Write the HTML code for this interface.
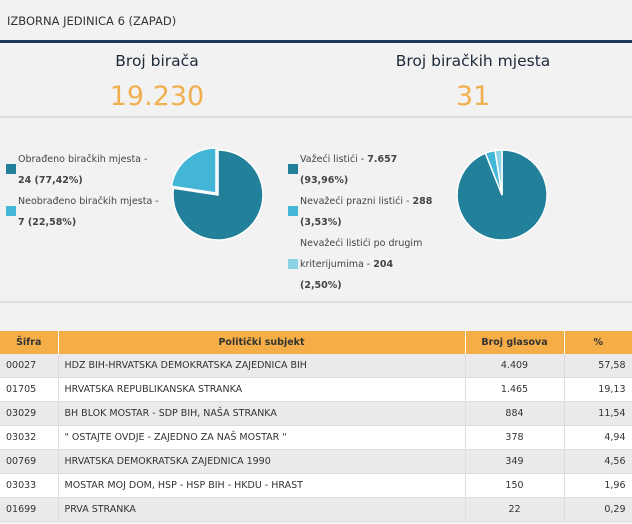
<!DOCTYPE html><html><head><meta charset="utf-8"><style>
body{margin:0;width:632px;height:524px;background:#f2f2f2;font-family:"DejaVu Sans","Liberation Sans",sans-serif;color:#333;overflow:hidden;position:relative}
.a{position:absolute;white-space:nowrap}
.sq{position:absolute;width:10px;height:10px}
.lg{font-size:9.5px;color:#444}
table{position:absolute;left:0;top:331px;width:632px;border-collapse:collapse;font-size:9.5px;table-layout:fixed}
th{background:#f5ae47;height:23px;font-weight:bold;color:#333;border-right:1px solid #fff;padding:0}
td{height:23px;border-right:1px solid #ddd;border-bottom:1px solid #ddd;padding:0 6px;color:#333;overflow:hidden}
tr:nth-child(even) td{background:#eaeaea}tr:nth-child(odd) td{background:#fff}
td.c{text-align:center}
</style></head><body>
<div class="a" style="left:7px;top:14px;font-size:11.5px;color:#333">IZBORNA JEDINICA 6 (ZAPAD)</div>
<div class="a" style="left:0;top:40px;width:632px;height:3px;background:#1d3a5c"></div>
<div class="a" style="left:57px;width:200px;top:52px;text-align:center;font-size:15.5px;color:#1e2a3a">Broj birača</div>
<div class="a" style="left:57px;width:200px;top:81px;text-align:center;font-size:27px;color:#f0b050">19.230</div>
<div class="a" style="left:373px;width:200px;top:52px;text-align:center;font-size:15.5px;color:#1e2a3a">Broj biračkih mjesta</div>
<div class="a" style="left:373px;width:200px;top:81px;text-align:center;font-size:27px;color:#f0b050">31</div>
<div class="a" style="left:0;top:116px;width:632px;height:2px;background:#ddd"></div>
<div class="sq" style="left:6px;top:164px;background:#22809a"></div>
<div class="a lg" style="left:18px;top:154px">Obrađeno biračkih mjesta -</div>
<div class="a lg" style="left:18px;top:175px"><b>24 (77,42%)</b></div>
<div class="sq" style="left:6px;top:206px;background:#43b5d6"></div>
<div class="a lg" style="left:18px;top:196px">Neobrađeno biračkih mjesta -</div>
<div class="a lg" style="left:18px;top:217px"><b>7 (22,58%)</b></div>
<div class="sq" style="left:288px;top:164px;background:#22809a"></div>
<div class="a lg" style="left:300px;top:154px">Važeći listići - <b>7.657</b></div>
<div class="a lg" style="left:300px;top:175px"><b>(93,96%)</b></div>
<div class="sq" style="left:288px;top:206px;background:#43b5d6"></div>
<div class="a lg" style="left:300px;top:196px">Nevažeći prazni listići - <b>288</b></div>
<div class="a lg" style="left:300px;top:217px"><b>(3,53%)</b></div>
<div class="a lg" style="left:300px;top:238px">Nevažeći listići po drugim</div>
<div class="sq" style="left:288px;top:259px;background:#8dd3e6"></div>
<div class="a lg" style="left:300px;top:259px">kriterijumima - <b>204</b></div>
<div class="a lg" style="left:300px;top:280px"><b>(2,50%)</b></div>
<svg class="a" style="left:0;top:0" width="632" height="524">
<g stroke="#fff" stroke-width="1.5">
<path d="M218,195 L218,150 A45,45 0 1 1 173.5,188.2 Z" fill="#22809a"/>
<path d="M216,193 L171.5,186.2 A45,45 0 0 1 216,148 Z" fill="#43b5d6"/>
<path d="M502,195 L502,150 A45,45 0 1 1 485.4,153.2 Z" fill="#22809a"/>
<path d="M502,195 L485.4,153.2 A45,45 0 0 1 495,150.5 Z" fill="#43b5d6"/>
<path d="M502,195 L495,150.5 A45,45 0 0 1 502,150 Z" fill="#8dd3e6"/>
</g></svg>
<div class="a" style="left:0;top:301px;width:632px;height:2px;background:#ddd"></div>
<table>
<colgroup><col style="width:58px"><col style="width:407px"><col style="width:99px"><col style="width:68px"></colgroup>
<tr><th>Šifra</th><th>Politički subjekt</th><th>Broj glasova</th><th style="border-right:0">%</th></tr>
<tr><td>00027</td><td>HDZ BIH-HRVATSKA DEMOKRATSKA ZAJEDNICA BIH</td><td class="c">4.409</td><td align="right">57,58</td></tr>
<tr><td>01705</td><td>HRVATSKA REPUBLIKANSKA STRANKA</td><td class="c">1.465</td><td align="right">19,13</td></tr>
<tr><td>03029</td><td>BH BLOK MOSTAR - SDP BIH, NAŠA STRANKA</td><td class="c">884</td><td align="right">11,54</td></tr>
<tr><td>03032</td><td>" OSTAJTE OVDJE - ZAJEDNO ZA NAŠ MOSTAR "</td><td class="c">378</td><td align="right">4,94</td></tr>
<tr><td>00769</td><td>HRVATSKA DEMOKRATSKA ZAJEDNICA 1990</td><td class="c">349</td><td align="right">4,56</td></tr>
<tr><td>03033</td><td>MOSTAR MOJ DOM, HSP - HSP BIH - HKDU - HRAST</td><td class="c">150</td><td align="right">1,96</td></tr>
<tr><td>01699</td><td>PRVA STRANKA</td><td class="c">22</td><td align="right">0,29</td></tr>
</table>
</body></html>
